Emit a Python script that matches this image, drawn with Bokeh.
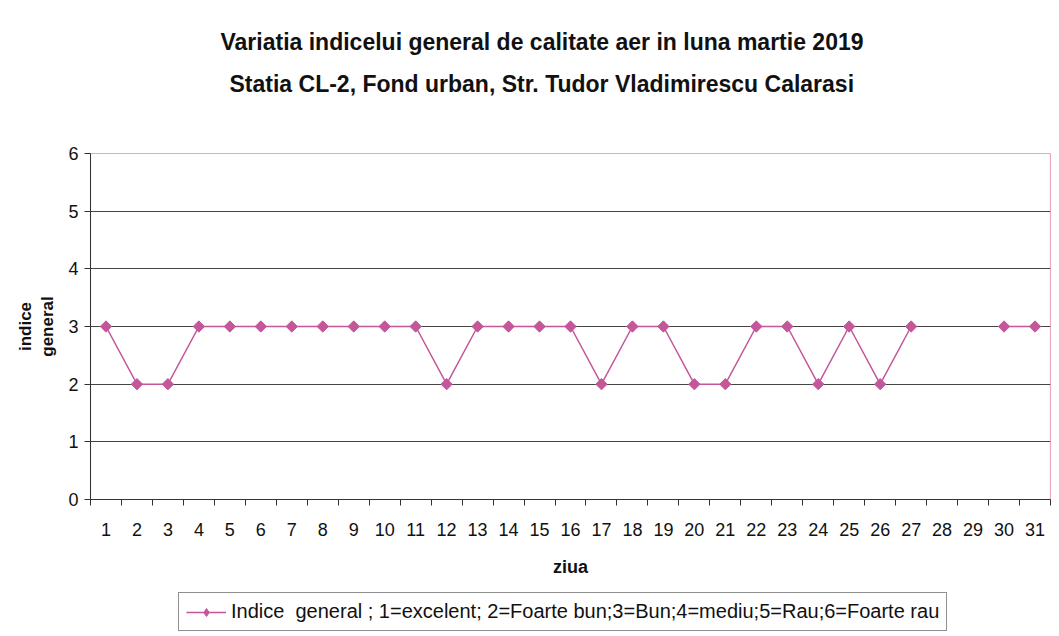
from bokeh.plotting import figure
from bokeh.layouts import column
from bokeh.models import (ColumnDataSource, FixedTicker, Legend, LegendItem,
                          Range1d, Title)
from bokeh.embed import file_html
from bokeh.resources import INLINE
import math

# ---- data ----
days = list(range(1, 32))
indice = [3, 2, 2, 3, 3, 3, 3, 3, 3, 3, 3, 2, 3, 3, 3, 3, 2, 3, 3, 2,
          2, 3, 3, 2, 3, 2, 3, None, None, 3, 3]
y_ticks = [0, 1, 2, 3, 4, 5, 6]
title1 = "Variatia indicelui general de calitate aer in luna martie 2019"
title2 = "Statia CL-2, Fond urban,  Str. Tudor Vladimirescu Calarasi"
y_label = "indice\ngeneral"
x_label = "ziua"
legend_label = "Indice  general ; 1=excelent; 2=Foarte bun;3=Bun;4=mediu;5=Rau;6=Foarte rau"

FONT = "Liberation Sans"
COLOR = "#C4569A"
TXT = "#111111"

vals = [float("nan") if v is None else v for v in indice]
src = ColumnDataSource(dict(day=days, val=vals))

p = figure(frame_width=960, frame_height=346, output_backend="svg", toolbar_location=None,
           x_range=Range1d(0.5, 31.5), y_range=Range1d(0, 6),
           min_border_left=90, min_border_right=1, min_border_top=153,
           min_border_bottom=90, title=None)
p.background_fill_color = "white"
p.border_fill_color = "white"
p.outline_line_color = "#E8A8C0"
p.outline_line_width = 1.2

# titles (first added is closest to the frame): spacer, line 2, line 1
p.add_layout(Title(text=" ", text_font_size="1px", standoff=54), "above")
p.add_layout(Title(text=title2, align="left", offset=139, standoff=0,
                   text_font=FONT, text_font_size="23px", text_font_style="bold",
                   text_color=TXT), "above")
p.add_layout(Title(text=title1, align="left", offset=130, standoff=28,
                   text_font=FONT, text_font_size="23px", text_font_style="bold",
                   text_color=TXT), "above")

# grid
p.xgrid.visible = False
p.ygrid.ticker = FixedTicker(ticks=y_ticks[1:-1])
p.ygrid.grid_line_color = "#444444"
p.ygrid.grid_line_width = 1

# y axis
p.yaxis.ticker = FixedTicker(ticks=y_ticks)
p.yaxis.major_tick_out = 6
p.yaxis.major_tick_in = 0
p.yaxis.minor_tick_out = 0
p.yaxis.minor_tick_in = 0
p.yaxis.axis_line_color = "#333333"
p.yaxis.major_tick_line_color = "#333333"
p.yaxis.major_label_text_font = FONT
p.yaxis.major_label_text_font_size = "18px"
p.yaxis.major_label_text_color = TXT
p.yaxis.major_label_standoff = 6
p.yaxis.axis_label = y_label
p.yaxis.axis_label_text_font = FONT
p.yaxis.axis_label_text_font_size = "17px"
p.yaxis.axis_label_text_font_style = "bold"
p.yaxis.axis_label_text_color = TXT
p.yaxis.axis_label_standoff = 8

# x axis
p.xaxis.ticker = FixedTicker(ticks=days,
                             minor_ticks=[d - 0.5 for d in days] + [days[-1] + 0.5])
p.xaxis.major_tick_out = 0
p.xaxis.major_tick_in = 0
p.xaxis.minor_tick_out = 6
p.xaxis.minor_tick_in = 0
p.xaxis.minor_tick_line_color = "#333333"
p.xaxis.axis_line_color = "#333333"
p.xaxis.major_label_text_font = FONT
p.xaxis.major_label_text_font_size = "18px"
p.xaxis.major_label_text_color = TXT
p.xaxis.major_label_standoff = 17
p.xaxis.axis_label = x_label
p.xaxis.axis_label_text_font = FONT
p.xaxis.axis_label_text_font_size = "18px"
p.xaxis.axis_label_text_font_style = "bold"
p.xaxis.axis_label_text_color = TXT
p.xaxis.axis_label_standoff = 18

# series
ln = p.line("day", "val", source=src, line_color=COLOR, line_width=1.5)
sc = p.scatter("day", "val", source=src, marker="square", size=8, angle=math.pi / 4,
               fill_color=COLOR, line_color=COLOR)

# ---- legend strip below the chart (its renderers fall outside its ranges) ----
p2 = figure(width=1051, height=43, output_backend="svg", toolbar_location=None,
            x_range=Range1d(-20, -19), y_range=Range1d(-20, -19), min_border=0,
            title=None)
p2.axis.visible = False
p2.grid.visible = False
p2.outline_line_color = None
p2.border_fill_color = "white"
ln2 = p2.line("day", "val", source=src, line_color=COLOR, line_width=1.5)
sc2 = p2.scatter("day", "val", source=src, marker="diamond", size=12,
                 fill_color=COLOR, line_color=COLOR)
legend = Legend(items=[LegendItem(label=legend_label, renderers=[ln2, sc2])],
                location=(88, 1), orientation="horizontal",
                label_text_font=FONT, label_text_font_size="20px",
                label_text_color=TXT,
                border_line_color="#222222", border_line_width=1,
                background_fill_alpha=1.0, glyph_width=40, glyph_height=20,
                padding=7, margin=0, label_standoff=5)
p2.add_layout(legend, "center")

layout = column(p, p2, spacing=0)
open("out.html", "w").write(file_html(layout, INLINE))
